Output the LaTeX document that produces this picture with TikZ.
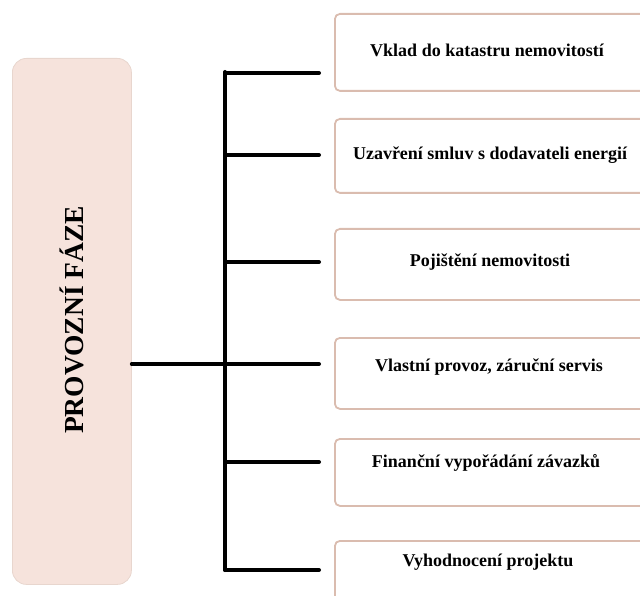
\documentclass[tikz,border=0pt]{standalone}
\usepackage{fontspec}
\setmainfont{Liberation Serif}
\definecolor{phaseline}{RGB}{232,214,206}
\definecolor{phasefill}{RGB}{246,227,220}
\definecolor{stepline}{RGB}{218,188,175}
\begin{document}
\begin{tikzpicture}[x=1pt,y=-1pt,
  phasebox/.style={draw=phaseline, fill=phasefill,
    rounded corners=14pt, line width=0.8pt, minimum width=119pt,
    minimum height=526pt, inner sep=0pt, anchor=north west},
  stepbox/.style={draw=stepline, line width=1.8pt,
    rounded corners=5pt, fill=white, minimum width=330pt,
    inner sep=0pt, anchor=north west},
  steptext/.style={font=\bfseries\fontsize{18}{20}\selectfont, inner sep=0pt},
  bar/.style={line width=4pt, line cap=round}]
\useasboundingbox (0,0) rectangle (640,596);
\begin{scope}
\clip (0,0) rectangle (640,596);
% phase block on the left
\node[phasebox] (phase) at (12,58) {};
\node[font=\bfseries\fontsize{27.5}{30}\selectfont, rotate=90] (phasetext) at (72,320) {PROVOZNÍ FÁZE};

% step boxes on the right
\node[stepbox, minimum height=77pt] (s1) at (334,13) {};
\node[stepbox, minimum height=74pt] (s2) at (334,118) {};
\node[stepbox, minimum height=71pt] (s3) at (334,228) {};
\node[stepbox, minimum height=71pt] (s4) at (334,337) {};
\node[stepbox, minimum height=67pt] (s5) at (334,438) {};
\node[stepbox, minimum height=72pt] (s6) at (334,540) {};

\node[steptext] (t1) at (487,50) {Vklad do katastru nemovitostí};
\node[steptext] (t2) at (490,155) {Uzavření smluv s dodavateli energií};
\node[steptext] (t3) at (490,262) {Pojištění nemovitosti};
\node[steptext] (t4) at (489,367) {Vlastní provoz, záruční servis};
\node[steptext] (t5) at (486,463) {Finanční vypořádání závazků};
\node[steptext] (t6) at (488,562) {Vyhodnocení projektu};

% tree connectors
\coordinate (hub) at (225,364);
\coordinate (ttop) at (225,72);
\coordinate (tbot) at (225,570);
\coordinate (b1) at (319,73);
\coordinate (b2) at (319,155);
\coordinate (b3) at (319,262);
\coordinate (b4) at (319,364);
\coordinate (b5) at (319,462);
\coordinate (b6) at (319,570);

\draw[bar] (phase.east |- hub) -- (hub);
\draw[bar] (ttop) -- (tbot);
\foreach \b in {b1,b2,b3,b4,b5,b6}
  \draw[bar] (ttop |- \b) -- (\b);
\end{scope}
\end{tikzpicture}
\end{document}
